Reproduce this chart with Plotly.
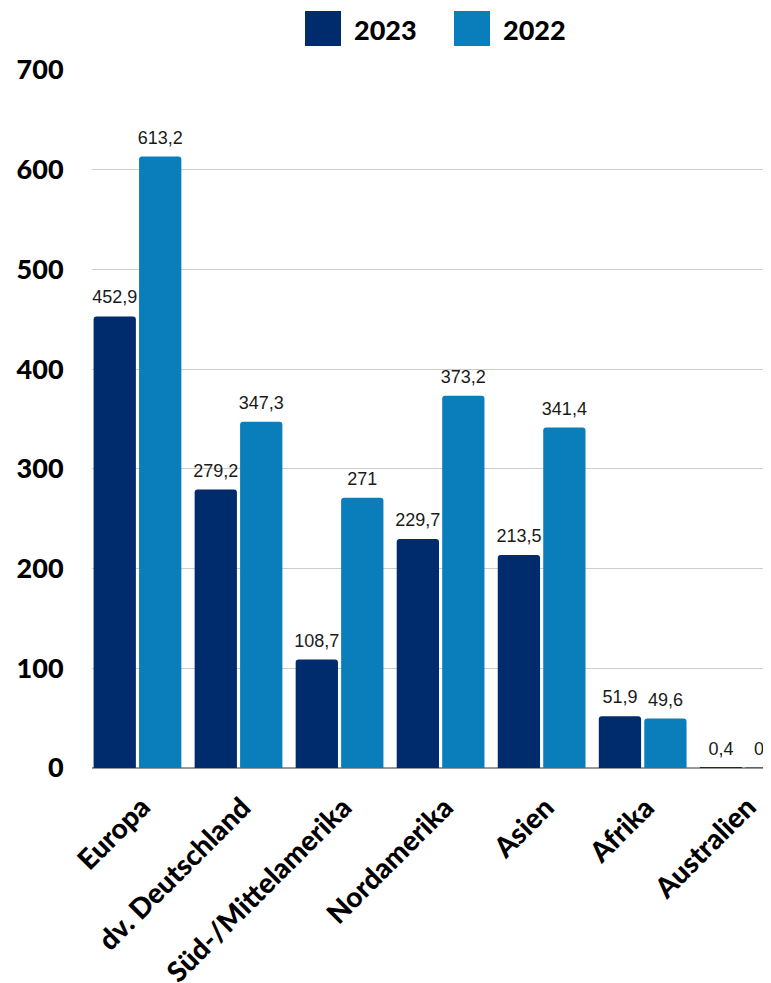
import plotly.graph_objects as go

categories = ["Europa", "dv. Deutschland", "Süd-/Mittelamerika", "Nordamerika", "Asien", "Afrika", "Australien"]
values_2023 = [452.9, 279.2, 108.7, 229.7, 213.5, 51.9, 0.4]
values_2022 = [613.2, 347.3, 271.0, 373.2, 341.4, 49.6, 0.1]
series_names = ["2023", "2022"]
y_ticks = [0, 100, 200, 300, 400, 500, 600, 700]

colors = ["#002B6C", "#0A7EBA"]
label_font = dict(family="Liberation Sans, Arial", size=18, color="#1a1a1a")
bold_font = dict(family="Lato", size=27, color="#000000", weight=900)

# page has an 8px body margin; plot area: left 84, top 62, 679 x 698 (figure coords)
PL, PT, PW, PH = 84, 62, 679, 698


def fmt(v):
    return f"{v:g}".replace(".", ",")


fig = go.Figure()
for i, (name, vals, col) in enumerate(zip(series_names, [values_2023, values_2022], colors)):
    fig.add_trace(go.Bar(
        x=categories, y=vals, name=name, offsetgroup=str(i),
        marker=dict(color=col, cornerradius=3, line=dict(width=0)),
        showlegend=False,
    ))
for i, (name, vals) in enumerate(zip(series_names, [values_2023, values_2022])):
    fig.add_trace(go.Scatter(
        x=categories, y=vals, name=name, offsetgroup=str(i),
        mode="markers+text", marker=dict(size=12, opacity=0),
        text=[fmt(v) for v in vals], textposition="top center",
        textfont=label_font, cliponaxis=False, showlegend=False, hoverinfo="skip",
    ))

# custom legend (large squares)
legend_items = [(series_names[0], colors[0], 297), (series_names[1], colors[1], 446)]
for name, col, x0 in legend_items:
    fig.add_shape(type="rect", xref="paper", yref="paper",
                  x0=(x0 - PL) / PW, x1=(x0 + 36 - PL) / PW,
                  y0=(PT + PH - 38) / PH, y1=(PT + PH - 3) / PH,
                  fillcolor=col, line=dict(width=0))
    fig.add_annotation(xref="paper", yref="paper", x=(x0 + 47 - PL) / PW,
                       y=(PT + PH - 21) / PH, text=name, showarrow=False,
                       xanchor="left", yanchor="middle",
                       font=dict(family="Lato", size=27, color="#000000", weight=900))

# rotated category labels
for c in categories:
    fig.add_annotation(x=c, y=0, xref="x", yref="y", text=c, showarrow=False,
                       textangle=-45, xanchor="right", yanchor="top",
                       xshift=21, yshift=-19,
                       font=dict(family="Lato", size=28, color="#000000", weight=900))

fig.update_layout(
    width=771, height=975,
    margin=dict(l=PL, r=771 - PL - PW, t=PT, b=975 - PT - PH),
    paper_bgcolor="white", plot_bgcolor="white",
    barmode="group", bargap=0.1, bargroupgap=0.07,
    scattermode="group", scattergap=0.1,
    showlegend=False,
    yaxis=dict(range=[0, 700], tickvals=y_ticks, showgrid=True, gridcolor="#CCCCCC",
               gridwidth=1, zeroline=True, zerolinecolor="#999999", zerolinewidth=1.5,
               tickfont=bold_font, ticks="outside", ticklen=22, tickcolor="rgba(0,0,0,0)"),
    xaxis=dict(range=[-0.45, 6.27], showticklabels=False, showline=False),
)

fig.write_html("out.html")
